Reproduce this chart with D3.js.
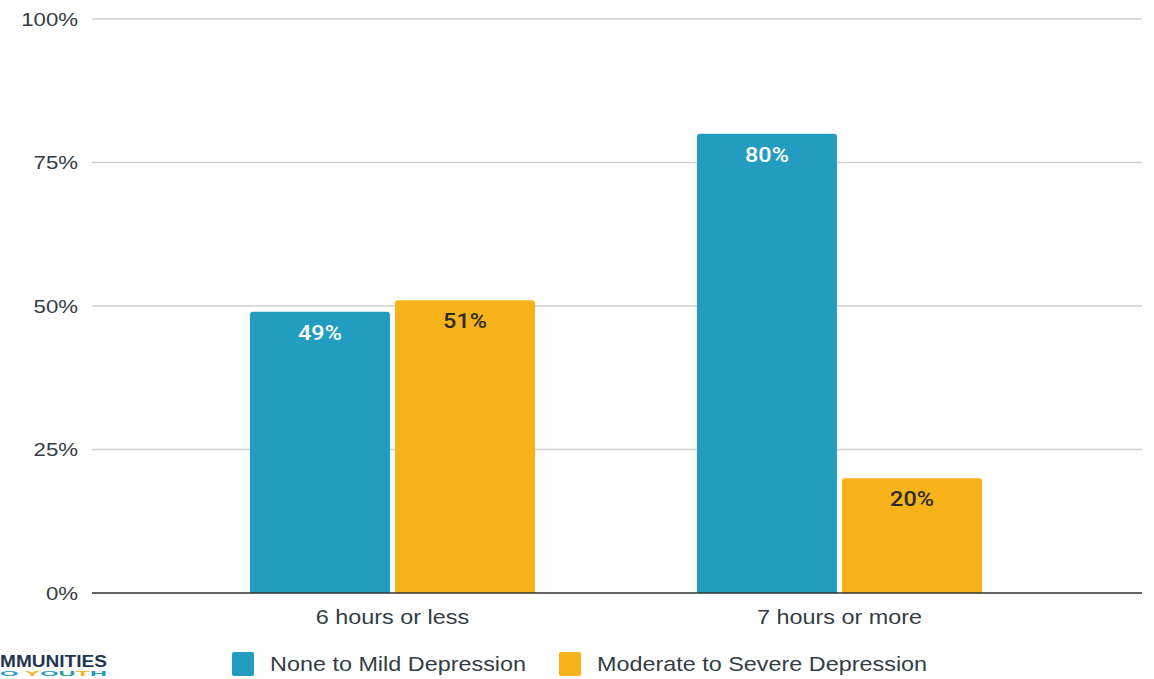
<!DOCTYPE html>
<html><head><meta charset="utf-8">
<script src="https://cdn.jsdelivr.net/npm/d3@7"></script>
<style>body{margin:0;background:#fff;}svg{display:block;}</style>
</head><body><svg id="c" width="1154" height="679"></svg>
<script>
const categories = ["6 hours or less", "7 hours or more"];
const seriesNames = ["None to Mild Depression", "Moderate to Severe Depression"];
const noneToMild = [49, 80];
const moderateToSevere = [51, 20];
const tickValues = [0, 25, 50, 75, 100];
const colors = ["#239dbf", "#f8b31a"];
const labelColors = ["#ffffff", "#2b2b2b"];
const SX = 1.17; // horizontal stretch of the reference text

const svg = d3.select("#c");
const y = d3.scaleLinear().domain([0, 100]).range([593, 19]);
const x0 = d3.scaleBand().domain(categories).range([250, 982]).paddingInner(0.3624);
const x1 = d3.scaleBand().domain(seriesNames).range([0, x0.bandwidth()]).paddingInner(0.035);
const seriesVals = [noneToMild, moderateToSevere];

function stretch(sel, fx, fy) {
  sel.each(function(d, i) {
    const X = fx(d, i), Y = fy(d, i);
    d3.select(this).attr("x", 0).attr("y", 0).attr("transform", `translate(${X},${Y}) scale(${SX},1)`);
  });
}

// grid
svg.append("g").selectAll("line").data(tickValues.filter(d => d > 0)).join("line")
  .attr("x1", 92).attr("x2", 1142).attr("y1", d => y(d)).attr("y2", d => y(d))
  .attr("stroke", "#d0d0d0").attr("stroke-width", 1.5);

// y axis labels
const yAxis = d3.axisLeft(y).tickValues(tickValues).tickFormat(d => d + "%").tickSize(0).tickPadding(0);
const ya = svg.append("g").call(yAxis);
ya.select(".domain").remove();
ya.selectAll(".tick").attr("transform", null);
ya.selectAll("text").attr("font-family", "Liberation Sans, Arial, sans-serif").attr("font-size", 19)
  .attr("fill", "#333d45").attr("dy", "0.35em").attr("text-anchor", "end")
  .call(stretch, () => 78, d => y(d));

// bars
const rows = [];
categories.forEach((c, i) => seriesNames.forEach((s, j) => rows.push({c, s, j, v: seriesVals[j][i]})));
const r = 3;
svg.append("g").selectAll("path").data(rows).join("path")
  .attr("d", d => {
    const xl = x0(d.c) + x1(d.s), w = x1.bandwidth(), yt = y(d.v), yb = y(0);
    return `M${xl},${yb}V${yt + r}Q${xl},${yt} ${xl + r},${yt}H${xl + w - r}Q${xl + w},${yt} ${xl + w},${yt + r}V${yb}Z`;
  })
  .attr("fill", d => colors[d.j]);

// data labels
svg.append("g").selectAll("text").data(rows).join("text")
  .attr("text-anchor", "middle")
  .attr("font-family", "Roboto, sans-serif").attr("font-weight", 500).attr("font-size", 20)
  .attr("fill", d => labelColors[d.j])
  .text(d => d.v + "%")
  .call(stretch, d => x0(d.c) + x1(d.s) + x1.bandwidth() / 2, d => y(d.v) + 28);

// baseline
svg.append("line").attr("x1", 92).attr("x2", 1142).attr("y1", y(0)).attr("y2", y(0))
  .attr("stroke", "#333").attr("stroke-width", 1.5);

// x axis labels
const xAxis = d3.axisBottom(x0).tickSize(0).tickPadding(0);
const xa = svg.append("g").call(xAxis);
xa.select(".domain").remove();
xa.selectAll(".tick").attr("transform", null);
xa.selectAll("text").attr("font-family", "Liberation Sans, Arial, sans-serif").attr("font-size", 20)
  .attr("fill", "#333d45").attr("dy", 0).attr("text-anchor", "middle")
  .call(stretch, d => x0(d) + x0.bandwidth() / 2, () => 624);

// legend
const legendX = [232, 559];
const lg = svg.append("g").selectAll("g").data(seriesNames).join("g")
  .attr("transform", (d, i) => `translate(${legendX[i]},652)`);
lg.append("rect").attr("width", 22).attr("height", 24).attr("rx", 2).attr("fill", (d, i) => colors[i]);
lg.append("text").attr("font-family", "Liberation Sans, Arial, sans-serif")
  .attr("font-size", 20).attr("fill", "#333d45").text(d => d)
  .call(stretch, () => 38, () => 19);

// partial logo
svg.append("text").attr("x", 0).attr("y", 667).attr("font-family", "Liberation Sans, Arial, sans-serif")
  .attr("font-weight", "bold").attr("font-size", 16).attr("fill", "#23364f")
  .attr("textLength", 107).attr("lengthAdjust", "spacingAndGlyphs").text("MMUNITIES");
const logo2 = svg.append("text").attr("x", 0).attr("y", 676).attr("font-family", "Liberation Sans, Arial, sans-serif")
  .attr("font-weight", "bold").attr("font-size", 7).attr("textLength", 107).attr("lengthAdjust", "spacingAndGlyphs");
[["O", "#239dbf"], [" ", "#fff"], ["Y", "#f8b31a"], ["O", "#239dbf"], ["U", "#2aa39a"], ["T", "#f8b31a"], ["H", "#239dbf"]]
  .forEach(([t, c]) => logo2.append("tspan").attr("fill", c).text(t));
</script></body></html>
